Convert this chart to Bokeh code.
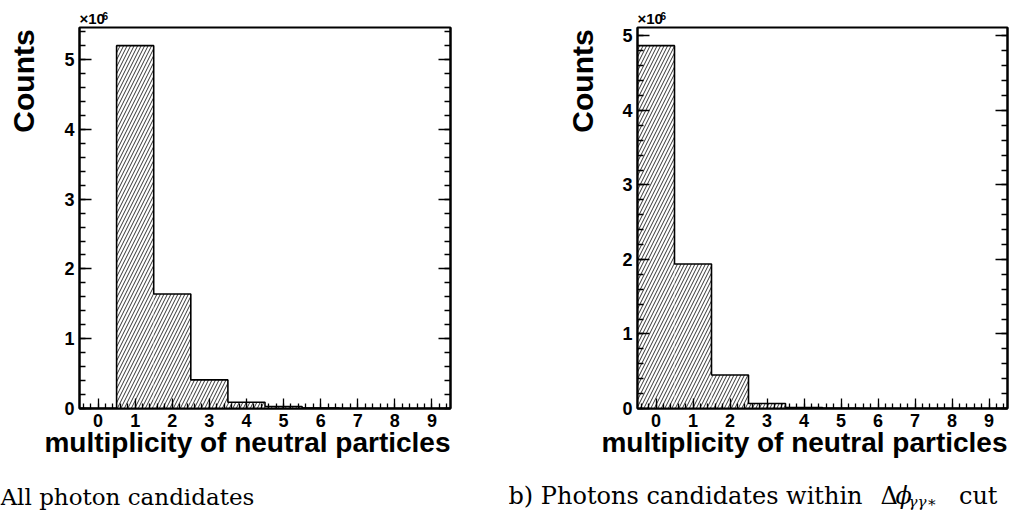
import numpy as np
from bokeh.plotting import figure
from bokeh.models import (Range1d, SingleIntervalTicker, LinearAxis, Label,
                          CustomJSTickFormatter, ColumnDataSource)
from bokeh.layouts import row, column
from bokeh.embed import file_html
from bokeh.resources import INLINE

# ---------------- data (counts in units of 10^6) ----------------
multiplicity = [0, 1, 2, 3, 4, 5, 6, 7, 8, 9]
counts_all = [0.0, 5.20, 1.64, 0.41, 0.09, 0.029, 0.005, 0.0, 0.0, 0.0]
counts_cut = [4.87, 1.94, 0.45, 0.067, 0.012, 0.003, 0.0, 0.0, 0.0, 0.0]
x_title = "multiplicity of neutral particles"
y_title = "Counts"
scale_base = "\u00d710"
scale_exp = "6"
caption_a = "All photon candidates"
caption_b_main = "b) Photons candidates within"
caption_b_delta = "\u0394"
caption_b_phi = "\u03d5"
caption_b_sub = "\u03b3\u03b3\u2217"
caption_b_end = "cut"

SANS = "Liberation Sans"
SERIF = "DejaVu Serif"
D_SANS = 0.212     # descent (em) used to turn a baseline into a bottom anchor
D_SERIF = 0.236
H = 511
TOP_H = 26                   # strip above the frame (page 0..26)
FRAME_TOP = 1
FRAME_H = 381                # page 27..408
BB = 25                      # tick-label border below frame
MID_H = FRAME_TOP + FRAME_H + BB
OVERLAP = 9                  # bottom text strip slides up under the tick labels
BOT_Y0 = TOP_H + MID_H - OVERLAP   # page y where bottom strip starts
BOT_H = H - BOT_Y0


def text_fig(w, h, transparent=False):
    f = figure(width=w, height=h, min_border=0, x_range=Range1d(0, w),
               y_range=Range1d(h, 0), x_axis_type=None, y_axis_type=None,
               toolbar_location=None, output_backend="svg")
    f.outline_line_color = None
    if transparent:
        f.background_fill_color = None
        f.border_fill_color = None
    else:
        f.background_fill_color = "white"
        f.border_fill_color = "white"
    return f


def lab(f, x, y_base, text, px, font=SANS, style="bold", align="left",
        angle=0.0, descent=D_SANS):
    """Place text so that its baseline is at y_base (or, rotated, at x)."""
    if angle:
        xa, ya = x + descent * px, y_base
    else:
        xa, ya = x, y_base + descent * px
    f.add_layout(Label(x=xa, y=ya, text=text, text_font=font, text_font_style=style,
                       text_font_size=f"{px}px", text_align=align, angle=angle,
                       text_baseline="bottom", text_color="black"))


def make_hist(values, width, border_left, border_right):
    edges = np.arange(len(multiplicity) + 1) - 0.5
    ymax = 1.05 * max(values)
    p = figure(width=width, height=MID_H, output_backend="svg", toolbar_location=None,
               x_range=Range1d(edges[0], edges[-1]), y_range=Range1d(0, ymax),
               min_border_left=border_left, min_border_right=border_right,
               min_border_top=FRAME_TOP, min_border_bottom=BB,
               x_axis_type=None, y_axis_type=None)
    p.outline_line_color = "black"
    p.outline_line_width = 2
    p.background_fill_color = "white"
    p.border_fill_color = "white"

    src = ColumnDataSource(dict(left=edges[:-1], right=edges[1:], top=values,
                                bottom=[0] * len(values)))
    p.quad(left="left", right="right", top="top", bottom="bottom", source=src,
           fill_color="white", line_color=None, hatch_pattern="/",
           hatch_color="black", hatch_scale=7, hatch_weight=0.8)
    xs, ys = [edges[0]], [0.0]
    for i, v in enumerate(values):
        xs += [edges[i], edges[i + 1]]
        ys += [v, v]
    xs.append(edges[-1]); ys.append(0.0)
    p.line(xs, ys, line_color="black", line_width=1.6)

    xt = SingleIntervalTicker(interval=1, num_minor_ticks=5)
    yt = SingleIntervalTicker(interval=1, num_minor_ticks=5)
    xa = LinearAxis(ticker=xt)
    ya = LinearAxis(ticker=yt)
    ra = LinearAxis(ticker=yt, formatter=CustomJSTickFormatter(code="return ''"))
    for ax in (xa, ya, ra):
        ax.axis_line_color = "black"
        ax.axis_line_width = 2
        ax.major_tick_line_color = "black"
        ax.minor_tick_line_color = "black"
        ax.major_tick_line_width = 1.3
        ax.minor_tick_line_width = 1.3
        ax.major_tick_out = 0
        ax.minor_tick_out = 0
        ax.major_label_text_font = SANS
        ax.major_label_text_font_style = "bold"
        ax.major_label_text_font_size = "18px"
        ax.major_label_text_color = "black"
    xa.major_tick_in = 10
    xa.minor_tick_in = 5
    xa.major_label_standoff = 5
    for ax in (ya, ra):
        ax.major_tick_in = 12
        ax.minor_tick_in = 6
    ya.major_label_standoff = 5
    ra.major_label_standoff = 0
    p.add_layout(xa, "below")
    p.add_layout(ya, "left")
    p.add_layout(ra, "right")
    return p


def panel(values, x0, pw, fl, fr, yw, ytitle_base):
    """x0: page x of panel; fl/fr: page x of frame edges; ytitle_base: page x of
    the rotated title's baseline.  All text positions given in page pixels."""
    fl_c, fr_c = fl - x0, fr - x0
    top = text_fig(pw, TOP_H)
    lab(top, fl_c, 23.5, scale_base, 15)
    lab(top, fl_c + 23, 17.5, scale_exp, 10)

    ytf = text_fig(yw, MID_H)
    lab(ytf, ytitle_base - x0, 28 - TOP_H, y_title, 30, align="right",
        angle=np.pi / 2)

    hist = make_hist(values, pw - yw, fl_c - yw, pw - fr_c)

    bot = text_fig(pw, BOT_H, transparent=True)
    bot.styles = {"margin-top": f"-{OVERLAP}px"}
    lab(bot, fr_c, 451.5 - BOT_Y0, x_title, 28, align="right")
    return top, ytf, hist, bot


# panel A: page x 0..508, panel B: page x 508..1015
tA, yA, hA, bA = panel(counts_all, 0, 508, 79, 450, 50, 33)
tB, yB, hB, bB = panel(counts_cut, 508, 507, 637, 1007, 100, 592)

cap_base = 504 - BOT_Y0
lab(bA, 0, cap_base, caption_a, 23, font=SERIF, style="normal", descent=D_SERIF)
lab(bB, 0, cap_base, caption_b_main, 24, font=SERIF, style="normal", descent=D_SERIF)
lab(bB, 372, cap_base, caption_b_delta, 24, font=SERIF, style="normal", descent=D_SERIF)
lab(bB, 387, cap_base, caption_b_phi, 24, font=SERIF, style="italic", descent=D_SERIF)
lab(bB, 400, cap_base + 3, caption_b_sub, 15, font=SERIF, style="italic", descent=D_SERIF)
lab(bB, 489, cap_base, caption_b_end, 24, font=SERIF, style="normal", align="right",
    descent=D_SERIF)

panelA = column(tA, row(yA, hA), bA)
panelB = column(tB, row(yB, hB), bB)
layout = row(panelA, panelB)

with open("out.html", "w") as f:
    f.write(file_html(layout, INLINE))
